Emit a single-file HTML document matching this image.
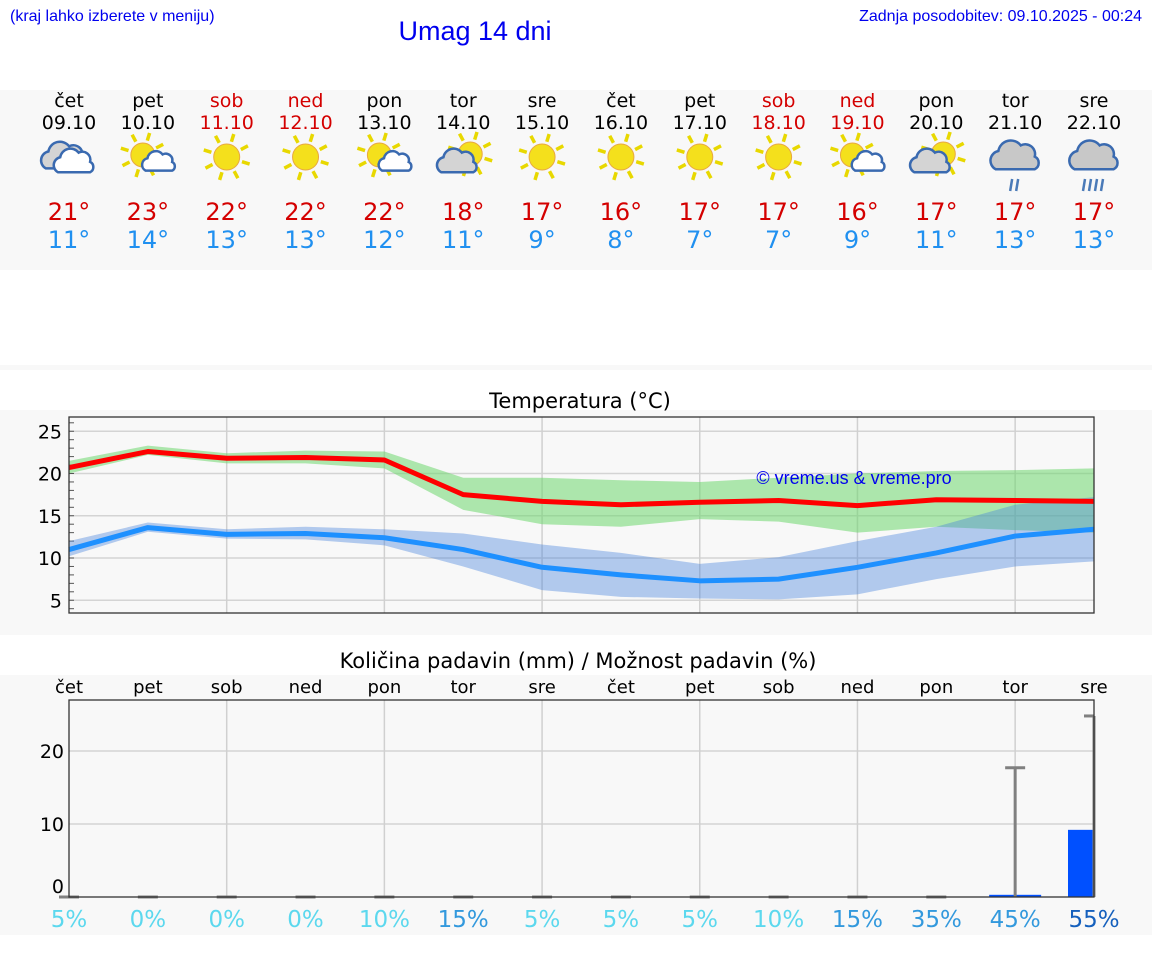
<!DOCTYPE html>
<html><head><meta charset="utf-8"><style>
html,body{margin:0;padding:0;background:#fff;width:1152px;height:975px;overflow:hidden}
svg{display:block}
text{font-family:"DejaVu Sans","Liberation Sans",sans-serif}
.hd{font-family:"Liberation Sans",Arial,sans-serif}
</style></head><body>
<svg id="svg" width="1152" height="975" viewBox="0 0 1152 975">
<text class="hd" x="10" y="21" font-size="16" fill="#0000ee">(kraj lahko izberete v meniju)</text>
<text class="hd" x="475" y="40" font-size="27" fill="#0000ee" text-anchor="middle">Umag 14 dni</text>
<text class="hd" x="1142" y="21" font-size="16" fill="#0000ee" text-anchor="end">Zadnja posodobitev: 09.10.2025 - 00:24</text>
<rect x="0" y="90" width="1152" height="180" fill="#f8f8f8"/>
<rect x="0" y="365" width="1152" height="5" fill="#f8f8f8"/>
<rect x="0" y="410" width="1152" height="225" fill="#f8f8f8"/>
<rect x="0" y="675" width="1152" height="260" fill="#f8f8f8"/>
<g id="days"></g>
<text x="580" y="408" font-size="21" text-anchor="middle" fill="#000">Temperatura (°C)</text>
<g id="tchart"></g>
<text x="578" y="668" font-size="21" text-anchor="middle" fill="#000">Količina padavin (mm) / Možnost padavin (%)</text>
<g id="pchart"></g>
</svg>
<script>
const weekdays=["čet","pet","sob","ned","pon","tor","sre","čet","pet","sob","ned","pon","tor","sre"];
const dates=["09.10","10.10","11.10","12.10","13.10","14.10","15.10","16.10","17.10","18.10","19.10","20.10","21.10","22.10"];
const icons=["cloudy","sunCloud","sun","sun","sunCloud","cloudSun","sun","sun","sun","sun","sunCloud","cloudSun","rain","rainHeavy"];
const hiTemps=[21,23,22,22,22,18,17,16,17,17,16,17,17,17];
const loTemps=[11,14,13,13,12,11,9,8,7,7,9,11,13,13];
const maxLine=[20.7,22.6,21.8,21.9,21.6,17.5,16.7,16.3,16.6,16.8,16.2,16.9,16.8,16.7];
const maxLow=[20,22.2,21.2,21.2,20.6,15.7,14,13.7,14.6,14.3,13,13.7,13.3,13.0];
const maxHigh=[21.5,23.3,22.4,22.7,22.6,19.5,19.5,19.2,19.0,19.5,20.0,20.3,20.4,20.6];
const minLine=[11,13.6,12.8,12.9,12.4,11,8.9,8,7.3,7.5,8.9,10.6,12.6,13.4];
const minLow=[10.2,13.1,12.3,12.2,11.5,9,6.2,5.4,5.2,5.1,5.7,7.5,9.0,9.6];
const minHigh=[12,14.2,13.4,13.7,13.4,12.9,11.6,10.6,9.3,10.1,12,13.7,16.3,17.2];
const tTicks=[5,10,15,20,25];
const precip=[0,0,0,0,0,0,0,0,0,0,0,0,0.3,9.2];
const precipMax=[0,0,0,0,0,0,0,0,0,0,0,0,17.7,24.8];
const chance=[5,0,0,0,10,15,5,5,5,10,15,35,45,55];
const pTicks=[0,10,20];

const NS="http://www.w3.org/2000/svg";
function el(tag,attrs,parent,txt){const e=document.createElementNS(NS,tag);for(const k in attrs)e.setAttribute(k,attrs[k]);if(txt!==undefined)e.textContent=txt;parent.appendChild(e);return e;}
const X0=69,X1=1094,STEP=(X1-X0)/13;
const xd=i=>X0+i*STEP;
const yT=v=>642.5-8.45*v;
const yP=v=>897-7.3*v;
const red="#d40000";

const days=document.getElementById('days');
function sun(g,cx,cy,r){
  for(let k=0;k<8;k++){const a=k*Math.PI/4+0.3;el('line',{x1:cx+Math.cos(a)*(r+3),y1:cy+Math.sin(a)*(r+3),x2:cx+Math.cos(a)*(r+11),y2:cy+Math.sin(a)*(r+11),stroke:"#e8d800","stroke-width":3.5},g);}
  el('circle',{cx:cx,cy:cy,r:r,fill:"#f4e01c",stroke:"#e8a840","stroke-width":1},g);
}
function cloud(g,cx,cy,s,fill){
  const p=`M${cx-14*s},${cy+8*s} a${7*s},${7*s} 0 0 1 ${2*s},${-13*s} a${9*s},${9*s} 0 0 1 ${16*s},${-4*s} a${7*s},${7*s} 0 0 1 ${10*s},${8*s} a${5*s},${5*s} 0 0 1 ${0},${9*s} z`;
  el('path',{d:p,fill:fill,stroke:"#3a6ab0","stroke-width":2.5},g);
}
for(let i=0;i<14;i++){
  const x=xd(i);const wk=(weekdays[i]==="sob"||weekdays[i]==="ned");
  const g=el('g',{},days);
  
  
  el('text',{x:x,y:107,"font-size":19,"text-anchor":"middle",fill:wk?red:"#000"},g,weekdays[i]);
  el('text',{x:x,y:129,"font-size":19,"text-anchor":"middle",fill:wk?red:"#000"},g,dates[i]);
  const ic=el('g',{},g);
  
  
  const t=icons[i],cy=160;
  if(t==="sun"){sun(ic,x,cy-3,13);}
  else if(t==="sunCloud"){sun(ic,x-5,cy-5,12);cloud(ic,x+11,cy+3,0.95,"#fff");}
  else if(t==="cloudSun"){sun(ic,x+7,cy-6,12);cloud(ic,x-6,cy+3,1.15,"#d4d4d4");}
  else if(t==="cloudy"){cloud(ic,x-5,cy-2,1.3,"#d4d4d4");cloud(ic,x+5,cy+3,1.15,"#fff");}
  else{cloud(ic,x,cy-2,1.4,"#c8c8c8");const n=t==="rain"?2:4;for(let k=0;k<n;k++){const rx=x-(n-1)*3+k*6;el('line',{x1:rx,y1:cy+19,x2:rx-2,y2:cy+31,stroke:"#4a7ab8","stroke-width":2.5},ic);}}
  el('text',{x:x,y:220,"font-size":24,"text-anchor":"middle",fill:red},g,hiTemps[i]+"°");
  el('text',{x:x,y:248,"font-size":24,"text-anchor":"middle",fill:"#2090f0"},g,loTemps[i]+"°");
}

const tc=document.getElementById('tchart');
el('rect',{x:X0,y:417,width:X1-X0,height:196,fill:"#f8f8f8"},tc);
for(const v of tTicks){el('line',{x1:X0,y1:yT(v),x2:X1,y2:yT(v),stroke:"#d4d4d4","stroke-width":1.5},tc);
  el('text',{x:62,y:yT(v)+7,"font-size":19,"text-anchor":"end",fill:"#000"},tc,v);}
for(let v=4;v<=26;v++){el('line',{x1:X0,y1:yT(v),x2:X0+5,y2:yT(v),stroke:"#555","stroke-width":1},tc);}
for(let i=2;i<13;i+=2){el('line',{x1:xd(i),y1:417,x2:xd(i),y2:613,stroke:"#d0d0d0","stroke-width":1.5},tc);}
function band(lo,hi,fill,name){let d="M"+lo.map((v,i)=>xd(i)+","+yT(v)).join(" L")+" L"+hi.map((v,i)=>xd(i)+","+yT(v)).reverse().join(" L")+" Z";
  const p=el('path',{d:d,fill:fill},tc);}
function line(vals,col,name){const p=el('polyline',{points:vals.map((v,i)=>xd(i)+","+yT(v)).join(" "),fill:"none",stroke:col,"stroke-width":5,"stroke-linejoin":"round"},tc);
  }
band(maxLow,maxHigh,"rgba(110,215,110,0.55)","max-temp-range");
band(minLow,minHigh,"rgba(70,130,220,0.4)","min-temp-range");
line(maxLine,"#ff0000","max-temp-line");
line(minLine,"#1e90ff","min-temp-line");
el('text',{x:854,y:484,"font-size":18,"text-anchor":"middle",fill:"#0000ee",style:"font-family:'Liberation Sans',sans-serif"},tc,"© vreme.us & vreme.pro");
el('rect',{x:X0,y:417,width:X1-X0,height:196,fill:"none",stroke:"#333","stroke-width":1.3},tc);

const pc=document.getElementById('pchart');
for(let i=0;i<14;i++){const t=el('text',{x:xd(i),y:693,"font-size":18,"text-anchor":"middle",fill:"#000"},pc,weekdays[i]);
  }
el('rect',{x:X0,y:700,width:X1-X0,height:197,fill:"#f8f8f8"},pc);
for(const v of pTicks){if(v>0)el('line',{x1:X0,y1:yP(v),x2:X1,y2:yP(v),stroke:"#d4d4d4","stroke-width":1.5},pc);
  el('text',{x:64,y:yP(v)+(v===0?-4:7),"font-size":19,"text-anchor":"end",fill:"#000"},pc,v);}
for(let i=2;i<13;i+=2){el('line',{x1:xd(i),y1:700,x2:xd(i),y2:897,stroke:"#d0d0d0","stroke-width":1.5},pc);}
for(let i=0;i<14;i++){
  const x=xd(i);
  if(precip[i]>0){const b=el('rect',{x:x-26,y:yP(precip[i]),width:i===13?26:52,height:897-yP(precip[i]),fill:"#0050ff"},pc);
    }
  const eb=el('g',{},pc);
  
  
  el('line',{x1:x,y1:897,x2:x,y2:yP(precipMax[i]),stroke:"#808080","stroke-width":3},eb);
  el('line',{x1:x-10,y1:yP(precipMax[i]),x2:i===13?x:x+10,y2:yP(precipMax[i]),stroke:"#808080","stroke-width":3},eb);
  const c=chance[i];const col=c>=55?"#1560bd":(c>=15?"#3399dd":"#5cd8ee");
  const t=el('text',{x:x,y:927,"font-size":23,"text-anchor":"middle",fill:col},pc,c+"%");
  
}
el('rect',{x:X0,y:700,width:X1-X0,height:197,fill:"none",stroke:"#333","stroke-width":1.3},pc);
</script>
</body></html>
